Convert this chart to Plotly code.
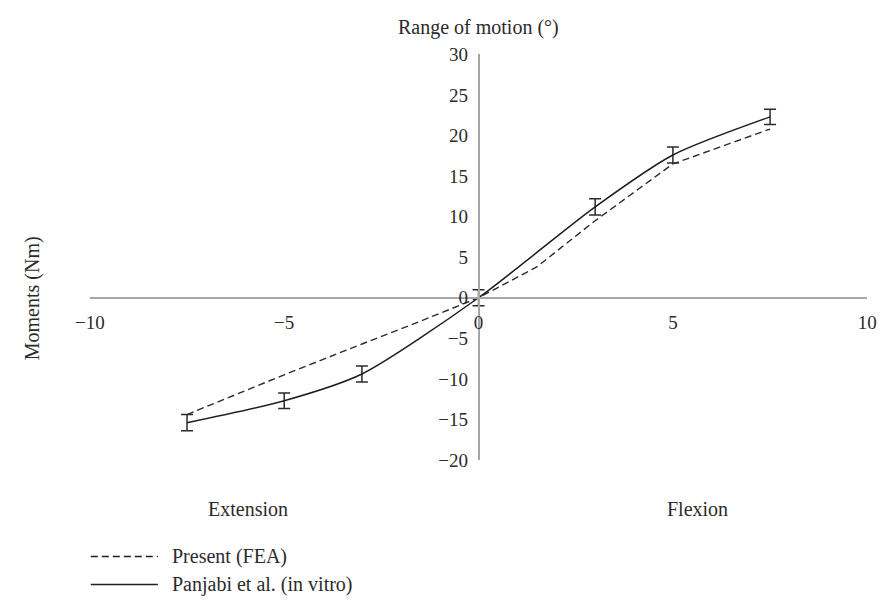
import plotly.graph_objects as go

# Data
moments_fea = [-7.5, -5, -3, -1.5, 0, 1.5, 3, 5, 7.5]
rom_fea = [-14.4, -9.5, -5.7, -2.9, 0, 3.8, 9.5, 16.5, 20.8]

moments_panjabi = [-7.5, -5, -3, 0, 3, 5, 7.5]
rom_panjabi = [-15.4, -12.7, -9.4, 0, 11.2, 17.6, 22.3]
err_panjabi = [1.0, 0.95, 1.0, 1.0, 1.0, 1.0, 0.95]

x_ticks = [-10, -5, 0, 5, 10]
y_ticks = [-20, -15, -10, -5, 0, 5, 10, 15, 20, 25, 30]

W, H = 886, 610
FONT = "Liberation Serif"
FS = 20
FS_TICK = 19
TXT = "#2b2b2b"
AXIS_GRAY = "#a6a6a6"

fig = go.Figure()

fig.add_trace(go.Scatter(
    x=moments_fea, y=rom_fea, mode="lines",
    line=dict(color="#2b2b2b", width=1.4, dash="7px,4px"),
    name="Present (FEA)", showlegend=False, hoverinfo="skip"))

fig.add_trace(go.Scatter(
    x=moments_panjabi, y=rom_panjabi, mode="lines",
    line=dict(color="#1e1e1e", width=1.5, shape="spline", smoothing=0.7),
    error_y=dict(type="data", array=err_panjabi, visible=True,
                 color="#2b2b2b", thickness=1.5, width=6),
    name="Panjabi et al. (in vitro)", showlegend=False, hoverinfo="skip"))

x0_px, x1_px = 77, 877
x_dom = [x0_px / W, x1_px / W]
y_dom = [(H - 466) / H, (H - 46) / H]
x_pos = (x0_px + x1_px) / 2 / W
y_pos = (H - 298) / H

fig.update_layout(
    width=W, height=H,
    margin=dict(l=0, r=0, t=0, b=0),
    paper_bgcolor="white", plot_bgcolor="white",
    font=dict(family=FONT, size=FS, color=TXT),
    showlegend=False,
    xaxis=dict(
        range=[-10, 10], domain=x_dom, anchor="free", position=y_pos,
        tickvals=x_ticks, showgrid=False, zeroline=False,
        showline=True, linecolor=AXIS_GRAY, linewidth=1.5,
        ticks="", ticklabelstandoff=8, ticklabeloverflow="allow",
        tickfont=dict(size=FS_TICK, family=FONT, color=TXT),
    ),
    yaxis=dict(
        range=[-20, 30], domain=y_dom, anchor="free", position=x_pos,
        tickvals=y_ticks, showgrid=False, zeroline=False,
        showline=True, linecolor=AXIS_GRAY, linewidth=1.5,
        ticks="", ticklabelstandoff=6, ticklabeloverflow="allow",
        tickfont=dict(size=FS_TICK, family=FONT, color=TXT),
    ),
)

annotations = [
    dict(text="Range of motion (°)", x=x_pos, y=(H - 18) / H, xref="paper", yref="paper",
         showarrow=False, xanchor="center", yanchor="middle", font=dict(size=FS, family=FONT)),
    dict(text="Moments (Nm)", x=18 / W, y=(H - 298) / H, xref="paper", yref="paper",
         showarrow=False, xanchor="center", yanchor="middle", textangle=-90, font=dict(size=FS, family=FONT)),
    dict(text="Extension", x=240 / W, y=(H - 517) / H, xref="paper", yref="paper",
         showarrow=False, xanchor="center", yanchor="middle", font=dict(size=FS, family=FONT)),
    dict(text="Flexion", x=702 / W, y=(H - 517) / H, xref="paper", yref="paper",
         showarrow=False, xanchor="center", yanchor="middle", font=dict(size=FS, family=FONT)),
]

legend_items = [("Present (FEA)", "7px,4px", 566), ("Panjabi et al. (in vitro)", "solid", 595)]
shapes = []
for label, dash, ypx in legend_items:
    yp = (H - ypx) / H
    shapes.append(dict(type="line", xref="paper", yref="paper",
                       x0=78 / W, x1=147 / W, y0=yp, y1=yp,
                       line=dict(color="#1e1e1e", width=1.4, dash=dash)))
    annotations.append(dict(text=label, x=160 / W, y=yp, xref="paper", yref="paper",
                            showarrow=False, xanchor="left", yanchor="middle",
                            font=dict(size=FS, family=FONT)))

fig.update_layout(annotations=annotations, shapes=shapes)

fig.write_html("out.html")
